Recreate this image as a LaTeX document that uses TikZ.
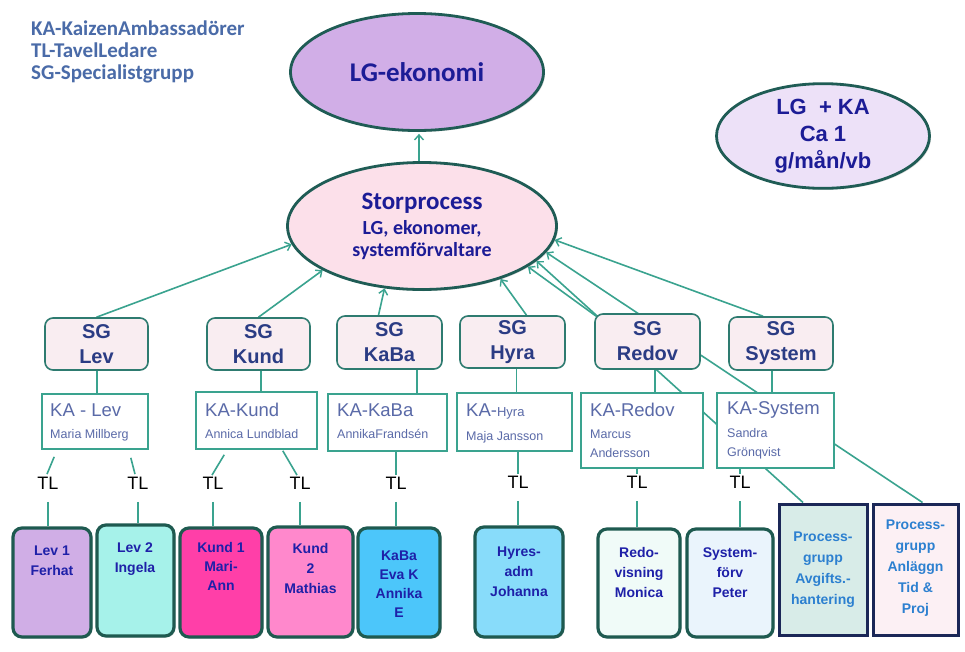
\documentclass[tikz,border=0pt]{standalone}
\usepackage{fontspec}
\setmainfont{Liberation Sans}
\newfontfamily\calfont{Carlito}
\usetikzlibrary{shapes.geometric,arrows.meta,backgrounds,shadows,calc}
\definecolor{linec}{HTML}{3AA38F}
\definecolor{ellc}{HTML}{1F5C55}
\definecolor{elltext}{HTML}{1C1C96}
\definecolor{lgfill}{HTML}{D1AEE7}
\definecolor{spfill}{HTML}{FCE0EA}
\definecolor{lgkafill}{HTML}{EDE1F8}
\definecolor{sgc}{HTML}{2E7B70}
\definecolor{sgfill}{HTML}{F9EDF1}
\definecolor{sgtext}{HTML}{2B3C84}
\definecolor{kac}{HTML}{3AA38F}
\definecolor{katext}{HTML}{5A6AA8}
\definecolor{legtext}{HTML}{4A6BA8}
\definecolor{pc}{HTML}{1E5A50}
\definecolor{ptextc}{HTML}{1E20A8}
\definecolor{gc}{HTML}{1B2757}
\definecolor{gtextc}{HTML}{2C80D0}
\definecolor{fa}{HTML}{D0AEE6}
\definecolor{fb}{HTML}{A6F2EA}
\definecolor{fc}{HTML}{FF3FA8}
\definecolor{fd}{HTML}{FF88CC}
\definecolor{fe}{HTML}{4CC6FA}
\definecolor{ff}{HTML}{88DCFA}
\definecolor{fg}{HTML}{F0FBF8}
\definecolor{fh}{HTML}{EAF4FC}
\definecolor{fi}{HTML}{D8ECE8}
\definecolor{fj}{HTML}{FCF0F4}
\begin{document}
\begin{tikzpicture}[x=1pt,y=-1pt,
  conn/.style={draw=linec, line width=1.6pt},
  arr/.style={conn, -{Straight Barb[length=5pt,width=9pt,line width=1.4pt]}},
  ellnode/.style={ellipse, draw=ellc, line width=2.8pt, inner sep=0, drop shadow={shadow xshift=1.5pt,shadow yshift=-1.5pt,opacity=.3}},
  sgbox/.style={rectangle, rounded corners=8pt, draw=sgc, line width=1.6pt, fill=sgfill, font=\bfseries\fontsize{20}{25}\selectfont, text=sgtext, align=center, inner sep=0},
  kabox/.style={rectangle, draw=kac, line width=1.6pt, fill=white, inner sep=0},
  katitle/.style={anchor=west, font=\fontsize{18.5}{20}\selectfont, text=katext, inner sep=0},
  kaname/.style={anchor=west, font=\fontsize{12.5}{19}\selectfont, text=katext, inner sep=0, align=left},
  tlnode/.style={font=\fontsize{18}{20}\selectfont, inner sep=0},
  pbox/.style={rectangle, rounded corners=9pt, draw=pc, line width=3.2pt, inner sep=0, drop shadow={shadow xshift=1.5pt,shadow yshift=-1.5pt,opacity=.3}},
  ptext/.style={font=\bfseries\fontsize{14}{20}\selectfont, text=ptextc, align=center, inner sep=0},
  gbox/.style={rectangle, draw=gc, line width=3pt, inner sep=0, drop shadow={shadow xshift=1.5pt,shadow yshift=-1.5pt,opacity=.3}},
  gtext/.style={font=\bfseries\fontsize{14}{21}\selectfont, text=gtextc, align=center, inner sep=0}
]
\useasboundingbox (0,0) rectangle (965,651);

% legend
\node[anchor=west, align=left, inner sep=0, text=legtext, font=\calfont\bfseries\fontsize{21}{22}\selectfont] (legend) at (31,52) {KA-KaizenAmbassadörer\\TL-TavelLedare\\SG-Specialistgrupp};

% ellipses
\node[ellnode, fill=lgfill, minimum width=253pt, minimum height=117pt, text=elltext, font=\calfont\bfseries\fontsize{27}{30}\selectfont] (lg) at (417,72) {LG-ekonomi};
\node[ellnode, fill=spfill, minimum width=269pt, minimum height=127pt, align=center, text=elltext, font=\calfont\bfseries\fontsize{20}{22}\selectfont] (sp) at (422,226) {{\fontsize{25}{26}\selectfont Storprocess}\\[3pt]LG, ekonomer,\\systemförvaltare};
\node[ellnode, fill=lgkafill, minimum width=213pt, minimum height=95pt, align=center, text=elltext, font=\bfseries\fontsize{22}{27}\selectfont] (lgka) at (823,136) {LG \ + KA\\Ca 1\\g/mån/vb};

% SG boxes
\node[sgbox, minimum width=103pt, minimum height=52pt] (sglev) at (96.5,344) {SG\\Lev};
\node[sgbox, minimum width=103pt, minimum height=52pt] (sgkund) at (258.5,344) {SG\\Kund};
\node[sgbox, minimum width=105pt, minimum height=53pt] (sgkaba) at (389.5,342.5) {SG\\KaBa};
\node[sgbox, minimum width=105pt, minimum height=52pt] (sghyra) at (512.5,342) {SG\\Hyra};
\node[sgbox, minimum width=105pt, minimum height=55pt] (sgredov) at (647.5,341.5) {SG\\Redov};
\node[sgbox, minimum width=104pt, minimum height=53pt] (sgsys) at (781,343.5) {SG\\System};

% KA boxes
\node[kabox, minimum width=106pt, minimum height=55pt] (kalev) at (95,421.5) {};
\node[kabox, minimum width=121pt, minimum height=57pt] (kakund) at (256.5,420.5) {};
\node[kabox, minimum width=119pt, minimum height=57pt] (kakaba) at (387.5,422.5) {};
\node[kabox, minimum width=115pt, minimum height=58pt] (kahyra) at (514.5,422) {};
\node[kabox, minimum width=122pt, minimum height=75pt] (karedov) at (642,430.5) {};
\node[kabox, minimum width=117pt, minimum height=75pt] (kasys) at (775.5,430.5) {};

\node[katitle] (kalevt) at (50,410) {KA - Lev};
\node[kaname] (kalevn) at (50,435) {Maria Millberg};
\node[katitle] (kakundt) at (205,410) {KA-Kund};
\node[kaname] (kakundn) at (205,434) {Annica Lundblad};
\node[katitle] (kakabat) at (337,410) {KA-KaBa};
\node[kaname] (kakaban) at (337,434) {AnnikaFrandsén};
\node[katitle] (kahyrat) at (466,411) {KA-{\fontsize{13}{15}\selectfont Hyra}};
\node[kaname] (kahyran) at (466,437) {Maja Jansson};
\node[katitle] (karedovt) at (590,410) {KA-Redov};
\node[kaname] (karedovn) at (590,443.5) {Marcus\\Andersson};
\node[katitle] (kasyst) at (727,410) {KA-System};
\node[kaname] (kasysn) at (727,443.5) {Sandra\\Grönqvist};

% TL labels
\node[tlnode] (tl1) at (48,483) {TL};
\node[tlnode] (tl2) at (138,483) {TL};
\node[tlnode] (tl3) at (213,483) {TL};
\node[tlnode] (tl4) at (300,483) {TL};
\node[tlnode] (tl5) at (396,483) {TL};
\node[tlnode] (tl6) at (518,482) {TL};
\node[tlnode] (tl7) at (637,482) {TL};
\node[tlnode] (tl8) at (740,482) {TL};

% bottom boxes
\node[pbox, fill=fa, minimum width=78pt, minimum height=109pt] (b1) at (52,582.5) {};
\node[pbox, fill=fb, minimum width=77pt, minimum height=111pt] (b2) at (135.5,580.5) {};
\node[pbox, fill=fc, minimum width=82pt, minimum height=109pt] (b3) at (221,582.5) {};
\node[pbox, fill=fd, minimum width=85pt, minimum height=110pt] (b4) at (310.5,582) {};
\node[pbox, fill=fe, minimum width=82pt, minimum height=109pt] (b5) at (399,582.5) {};
\node[pbox, fill=ff, minimum width=88pt, minimum height=110pt] (b6) at (519,582) {};
\node[pbox, fill=fg, minimum width=82pt, minimum height=108pt] (b7) at (639,583) {};
\node[pbox, fill=fh, minimum width=86pt, minimum height=108pt] (b8) at (730,583) {};
\node[gbox, fill=fi, minimum width=88pt, minimum height=131pt] (p1) at (823,569.5) {};
\node[gbox, fill=fj, minimum width=85pt, minimum height=131pt] (p2) at (915.5,569.5) {};

\node[ptext] (b1t) at (52,561) {Lev 1\\Ferhat};
\node[ptext] (b2t) at (135,559) {Lev 2\\Ingela};
\node[ptext, font=\bfseries\fontsize{14}{19}\selectfont] (b3t) at (221,566) {Kund 1\\Mari-\\Ann};
\node[ptext] (b4t) at (310.5,568) {Kund\\2\\Mathias};
\node[ptext, font=\bfseries\fontsize{14}{19}\selectfont] (b5t) at (399,584) {KaBa\\Eva K\\Annika\\E};
\node[ptext] (b6t) at (519,572) {Hyres-\\adm\\Johanna};
\node[ptext] (b7t) at (639,572) {Redo-\\visning\\Monica};
\node[ptext] (b8t) at (730,573) {System-\\förv\\Peter};
\node[gtext] (p1t) at (823,570) {Process-\\grupp\\Avgifts.-\\hantering};
\node[gtext, font=\bfseries\fontsize{14}{21}\selectfont] (p2t) at (915.5,568) {Process-\\grupp\\Anläggn\\Tid \&\\Proj};

\begin{pgfonlayer}{background}
\fill[white] (0,0) rectangle (965,651);
% arrows to LG and Storprocess
\draw[arr] ($(sp.north)+(-3,0)$) -- ($(lg.south)+(2,2)$);
\draw[arr] (sglev.north) -- (sp.188);
\draw[arr] (sgkund.north) -- (sp.204.5);
\draw[arr] ($(sgkaba.north)+(-11,0)$) -- (sp.239);
\draw[arr] ($(sghyra.north)+(14,0)$) -- (sp.326.6);
\draw[arr] ($(sgredov.north west)+(2,3)$) -- (sp.339.3);
\draw[arr] ($(p1.north)+(-20,0)$) -- (sp.343.5);
\draw[arr] ($(p2.north)+(7,0)$) -- (sp.348);
\draw[arr] ($(sgsys.north)+(-18,0)$) -- (sp.354.2);
% SG to KA
\coordinate (s1) at ($(sglev.south)+(0.5,0)$);
\coordinate (s2) at ($(sgkund.south)+(2.5,0)$);
\coordinate (s3) at ($(sgkaba.south)+(27.5,0)$);
\coordinate (s4) at ($(sghyra.south)+(4,0)$);
\coordinate (s5) at ($(sgredov.south)+(7.5,0)$);
\coordinate (s6) at ($(sgsys.south)+(-9,0)$);
\draw[conn] (s1) -- (s1 |- kalev.north);
\draw[conn] (s2) -- (s2 |- kakund.north);
\draw[conn] (s3) -- (s3 |- kakaba.north);
\draw[conn] (s4) -- (s4 |- kahyra.north);
\draw[conn] (s5) -- (s5 |- karedov.north);
\draw[conn] (s6) -- (s6 |- kasys.north);
% KA to TL
\draw[conn] ($(kalev.south west)+(13,7)$) -- ($(tl1.north)+(-1,-2.5)$);
\draw[conn] ($(kalev.south east)+(-18,8)$) -- ($(tl2.north)+(-3,-2.5)$);
\draw[conn] ($(kakund.south west)+(29,5)$) -- ($(tl3.north)+(-1,-1.5)$);
\draw[conn] ($(kakund.south east)+(-35,1)$) -- ($(tl4.north)+(-3,-1.5)$);
\draw[conn] (tl5.north |- kakaba.south) -- ($(tl5.north)+(0,-1.5)$);
\draw[conn] (tl6.north |- kahyra.south) -- ($(tl6.north)+(0,-1.5)$);
\draw[conn] (tl7.north |- karedov.south) -- ($(tl7.north)+(0,-2)$);
\draw[conn] (tl8.north |- kasys.south) -- ($(tl8.north)+(0,-2)$);
% TL to bottom boxes
\draw[conn] ($(tl1.south)+(0,12.5)$) -- (tl1.south |- b1.north);
\draw[conn] ($(tl2.south)+(0,12.5)$) -- (tl2.south |- b2.north);
\draw[conn] ($(tl3.south)+(0,12.5)$) -- (tl3.south |- b3.north);
\draw[conn] ($(tl4.south)+(0,12.5)$) -- (tl4.south |- b4.north);
\draw[conn] ($(tl5.south)+(0,12.5)$) -- (tl5.south |- b5.north);
\draw[conn] ($(tl6.south)+(0,12.5)$) -- (tl6.south |- b6.north);
\draw[conn] ($(tl7.south)+(0,13)$) -- (tl7.south |- b7.north);
\draw[conn] ($(tl8.south)+(0,13)$) -- (tl8.south |- b8.north);
\end{pgfonlayer}
\end{tikzpicture}
\end{document}
